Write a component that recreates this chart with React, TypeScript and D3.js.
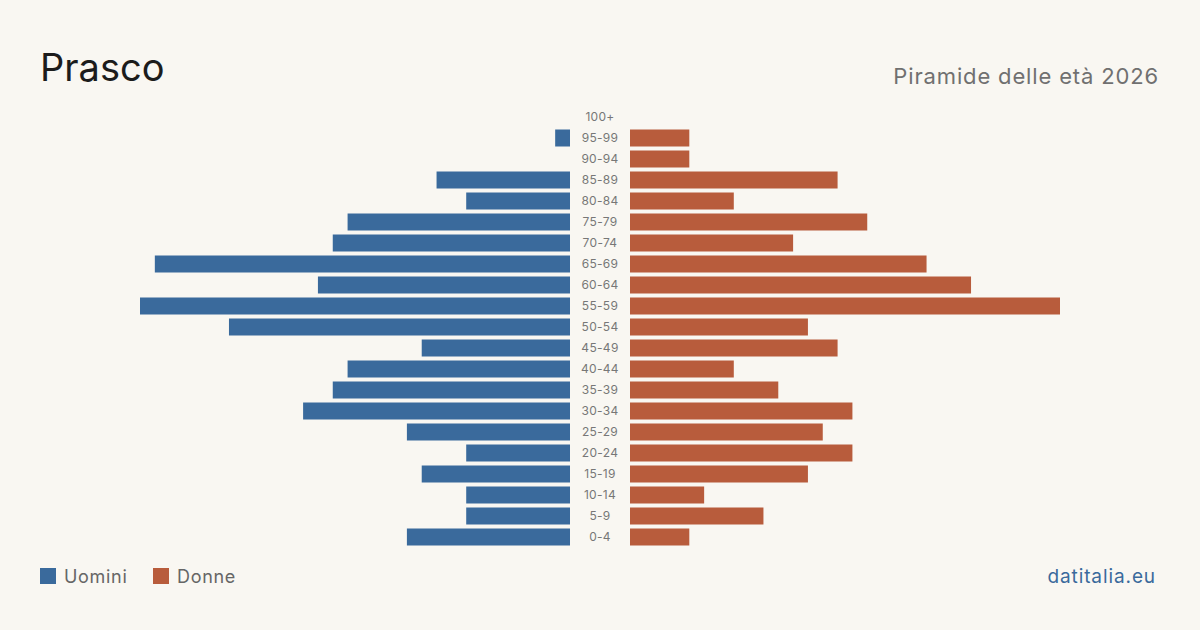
import React from "react";
import * as d3 from "d3";

const ageGroups = ["100+","95-99","90-94","85-89","80-84","75-79","70-74","65-69","60-64","55-59","50-54","45-49","40-44","35-39","30-34","25-29","20-24","15-19","10-14","5-9","0-4"];
const maleValues = [0,1,0,9,7,15,16,28,17,29,23,10,15,16,18,11,7,10,7,7,11];
const femaleValues = [0,4,4,14,7,16,11,20,23,29,12,14,7,10,15,13,15,12,5,9,4];

const W = 1200, H = 630;
const BLUE = "#3a6a9c";
const ORANGE = "#b85c3c";
const FONT = "Inter, 'Noto Sans', sans-serif";

export default function App() {
  const maxV = d3.max([...maleValues, ...femaleValues]) as number;
  const wScale = d3.scaleLinear().domain([0, maxV]).range([0, 430]);
  const y = d3.scaleBand().domain(ageGroups).range([106.5, 547.5]).paddingInner(4 / 21).paddingOuter(2 / 21);
  const cx = 600, leftEdge = 570, rightEdge = 630;
  return (
    <svg width={W} height={H} style={{ position: "absolute", left: 0, top: 0, display: "block" }} fontFamily={FONT}>
      <rect x={0} y={0} width={W} height={H} fill="#f9f7f2" />
      <text x={40} y={81} fontSize={38} fill="#1c1c1c">Prasco</text>
      <text x={1159} y={84} fontSize={22} fill="#707070" textAnchor="end" letterSpacing={0.85}>Piramide delle età 2026</text>
      {ageGroups.map((g, i) => {
        const yy = y(g) as number;
        const bh = y.bandwidth();
        const mw = wScale(maleValues[i]);
        const fw = wScale(femaleValues[i]);
        return (
          <g key={g}>
            {maleValues[i] > 0 && <rect x={leftEdge - mw} y={yy} width={mw} height={bh} fill={BLUE} />}
            {femaleValues[i] > 0 && <rect x={rightEdge} y={yy} width={fw} height={bh} fill={ORANGE} />}
            <text x={cx} y={yy + bh / 2} dy="0.35em" fontSize={12} fill="#777" textAnchor="middle" letterSpacing={0.3}>{g}</text>
          </g>
        );
      })}
      <rect x={40} y={568} width={16} height={16} fill={BLUE} />
      <text x={64} y={583} fontSize={18} fill="#666" letterSpacing={0.7}>Uomini</text>
      <rect x={153} y={568} width={16} height={16} fill={ORANGE} />
      <text x={177} y={583} fontSize={18} fill="#666" letterSpacing={0.7}>Donne</text>
      <text x={1156} y={583} fontSize={19} fill={BLUE} textAnchor="end" letterSpacing={0.9}>datitalia.eu</text>
    </svg>
  );
}
